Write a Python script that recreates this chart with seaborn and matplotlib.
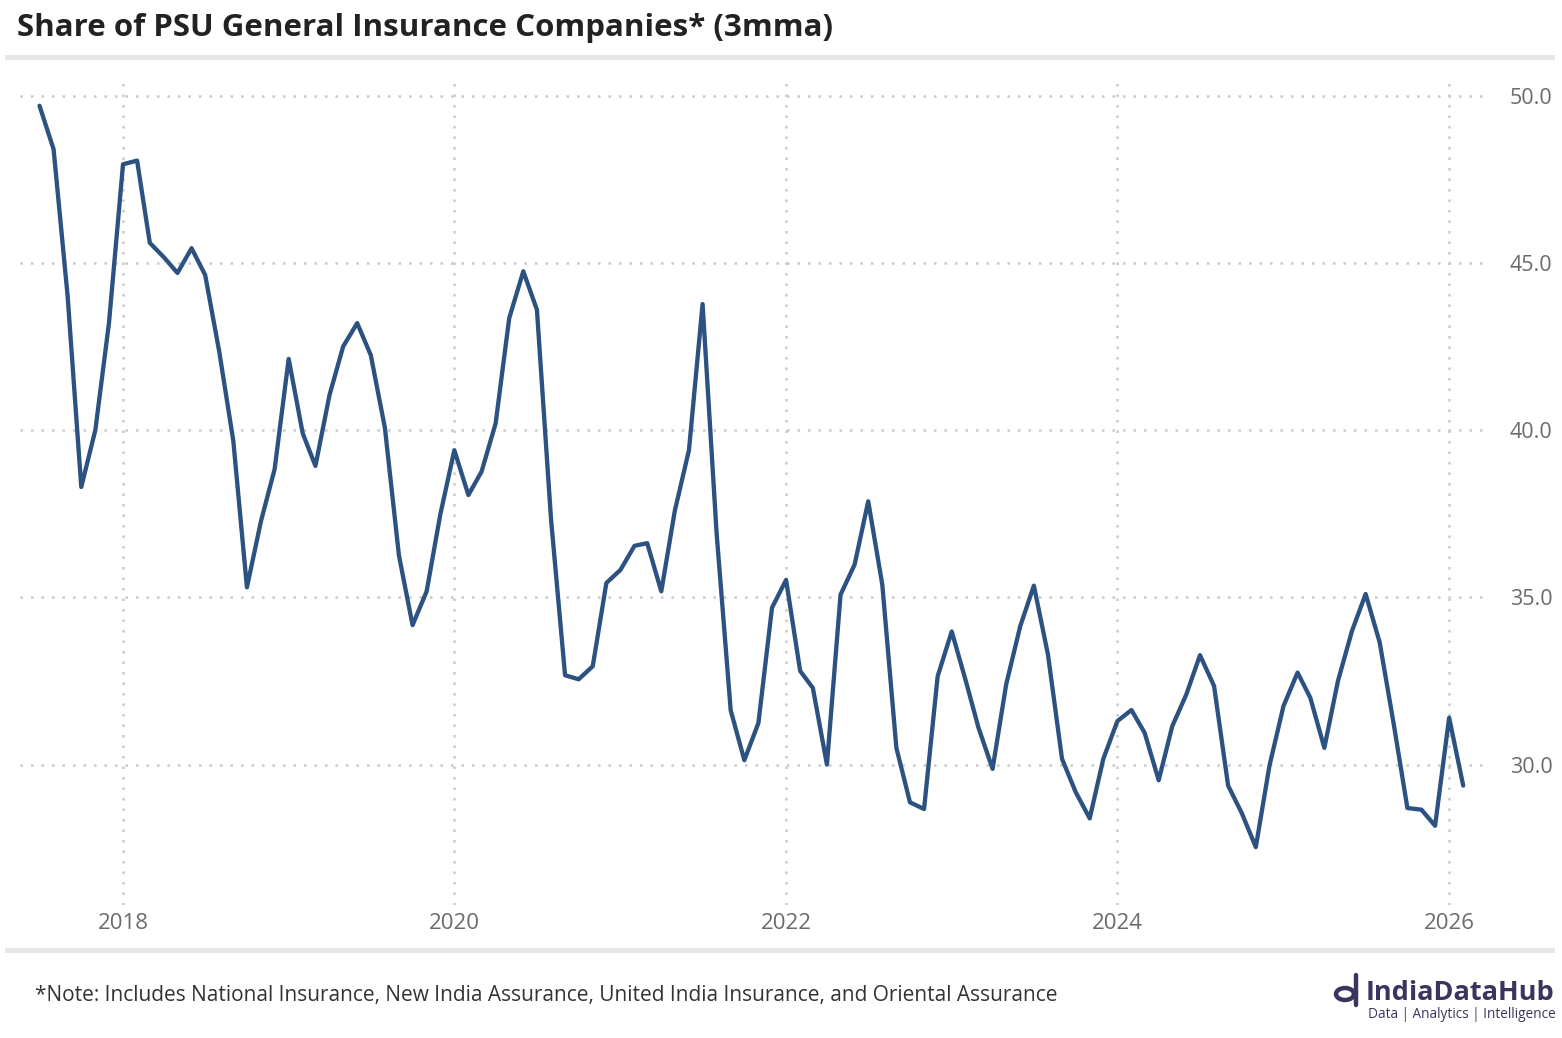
import pandas as pd
import numpy as np
import matplotlib.pyplot as plt
import matplotlib.dates as mdates
from matplotlib.lines import Line2D
from matplotlib.patches import Rectangle, Circle
import seaborn as sns

# Share of PSU general insurers, 3 month moving average (%), Jul 2017 - Feb 2026
start_month = '2017-07-01'
share_2017 = [49.7, 48.4, 44.0, 38.3, 40.0, 43.2]
share_2018 = [47.95, 48.06, 45.6, 45.17, 44.7, 45.44, 44.64, 42.35, 39.68, 35.3, 37.28, 38.83]
share_2019 = [42.13, 39.9, 38.93, 41.05, 42.5, 43.2, 42.24, 40.07, 36.25, 34.17, 35.18, 37.47]
share_2020 = [39.4, 38.06, 38.76, 40.2, 43.35, 44.75, 43.6, 37.35, 32.67, 32.55, 32.94, 35.43]
share_2021 = [35.82, 36.54, 36.62, 35.18, 37.6, 39.4, 43.77, 36.9, 31.62, 30.13, 31.24, 34.69]
share_2022 = [35.52, 32.8, 32.29, 30.0, 35.08, 35.98, 37.87, 35.38, 30.5, 28.87, 28.67, 32.64]
share_2023 = [33.98, 32.5, 31.1, 29.87, 32.4, 34.14, 35.35, 33.29, 30.17, 29.18, 28.39, 30.17]
share_2024 = [31.3, 31.63, 30.95, 29.53, 31.15, 32.1, 33.27, 32.35, 29.37, 28.55, 27.53, 29.96]
share_2025 = [31.75, 32.75, 32.0, 30.5, 32.5, 34.0, 35.1, 33.65, 31.2, 28.7, 28.65, 28.17]
share_2026 = [31.4, 29.37]

year_ticks = ['2018', '2020', '2022', '2024', '2026']
y_ticks = [30, 35, 40, 45, 50]

title_text = 'Share of PSU General Insurance Companies* (3mma)'
note_text = '*Note: Includes National Insurance, New India Assurance, United India Insurance, and Oriental Assurance'

values = (share_2017 + share_2018 + share_2019 + share_2020 + share_2021
          + share_2022 + share_2023 + share_2024 + share_2025 + share_2026)
df = pd.DataFrame({'date': pd.date_range(start_month, periods=len(values), freq='MS'),
                   'share': values})

sns.set_style('white')
plt.rcParams['font.family'] = ['Open Sans', 'DejaVu Sans']

fig = plt.figure(figsize=(15.62, 10.38), dpi=100)
W, H = 1562, 1038

# axes placed by pixel box: left 20, right 1485, top 79, bottom 905
ax = fig.add_axes([20 / W, 1 - 905 / H, (1485 - 20) / W, (905 - 79) / H])

sns.lineplot(data=df, x='date', y='share', ax=ax, color='#2c5282', linewidth=3.1)

ax.set_ylim(25.8, 50.5)
ax.set_xlim(pd.Timestamp('2017-05-19'), pd.Timestamp('2026-03-21'))

grid_kw = dict(color='#c9c9c9', linewidth=1.8, linestyle=(0, (1, 3.2)))
ax.set_yticks(y_ticks)
ax.set_yticklabels([f'{v:.1f}' for v in y_ticks])
ax.set_xticks([pd.Timestamp(f'{y}-01-01') for y in year_ticks])
ax.set_xticklabels(year_ticks)
ax.grid(True, axis='both', **grid_kw)

ax.yaxis.tick_right()
ax.tick_params(axis='y', length=0, pad=18, labelsize=15.5, labelcolor='#6b6b6b')
ax.tick_params(axis='x', length=0, pad=6, labelsize=16, labelcolor='#6b6b6b')
ax.set_xlabel('')
ax.set_ylabel('')
for s in ax.spines.values():
    s.set_visible(False)

# Title and separator bands
fig.text(17 / W, 1 - 28 / H, title_text, fontsize=22.5, fontweight='bold',
         color='#222222', va='center', ha='left')
fig.add_artist(Rectangle((5 / W, 1 - 60 / H), 1550 / W, 5 / H,
                         transform=fig.transFigure, color='#e6e6e6', lw=0))
fig.add_artist(Rectangle((5 / W, 1 - 953 / H), 1550 / W, 5 / H,
                         transform=fig.transFigure, color='#e6e6e6', lw=0))

# Footnote
fig.text(35 / W, 1 - 995 / H, note_text, fontsize=15, color='#333333',
         va='center', ha='left')

# Logo
logo_col = '#3a355f'
fig.add_artist(Circle((1345 / W, 1 - 994 / H), 9 / W, transform=fig.transFigure,
                      fill=False, lw=3.2, color=logo_col))
fig.add_artist(Line2D([1356 / W, 1356 / W], [1 - 1005 / H, 1 - 975 / H],
                      transform=fig.transFigure, lw=3.2, color=logo_col))
fig.text(1366 / W, 1 - 993 / H, 'IndiaDataHub', fontsize=19.5, fontweight='bold',
         color=logo_col, va='center', ha='left')
fig.text(1368 / W, 1 - 1015 / H, 'Data | Analytics | Intelligence', fontsize=9.8,
         color=logo_col, va='center', ha='left')

fig.savefig('out.png', dpi=100)
